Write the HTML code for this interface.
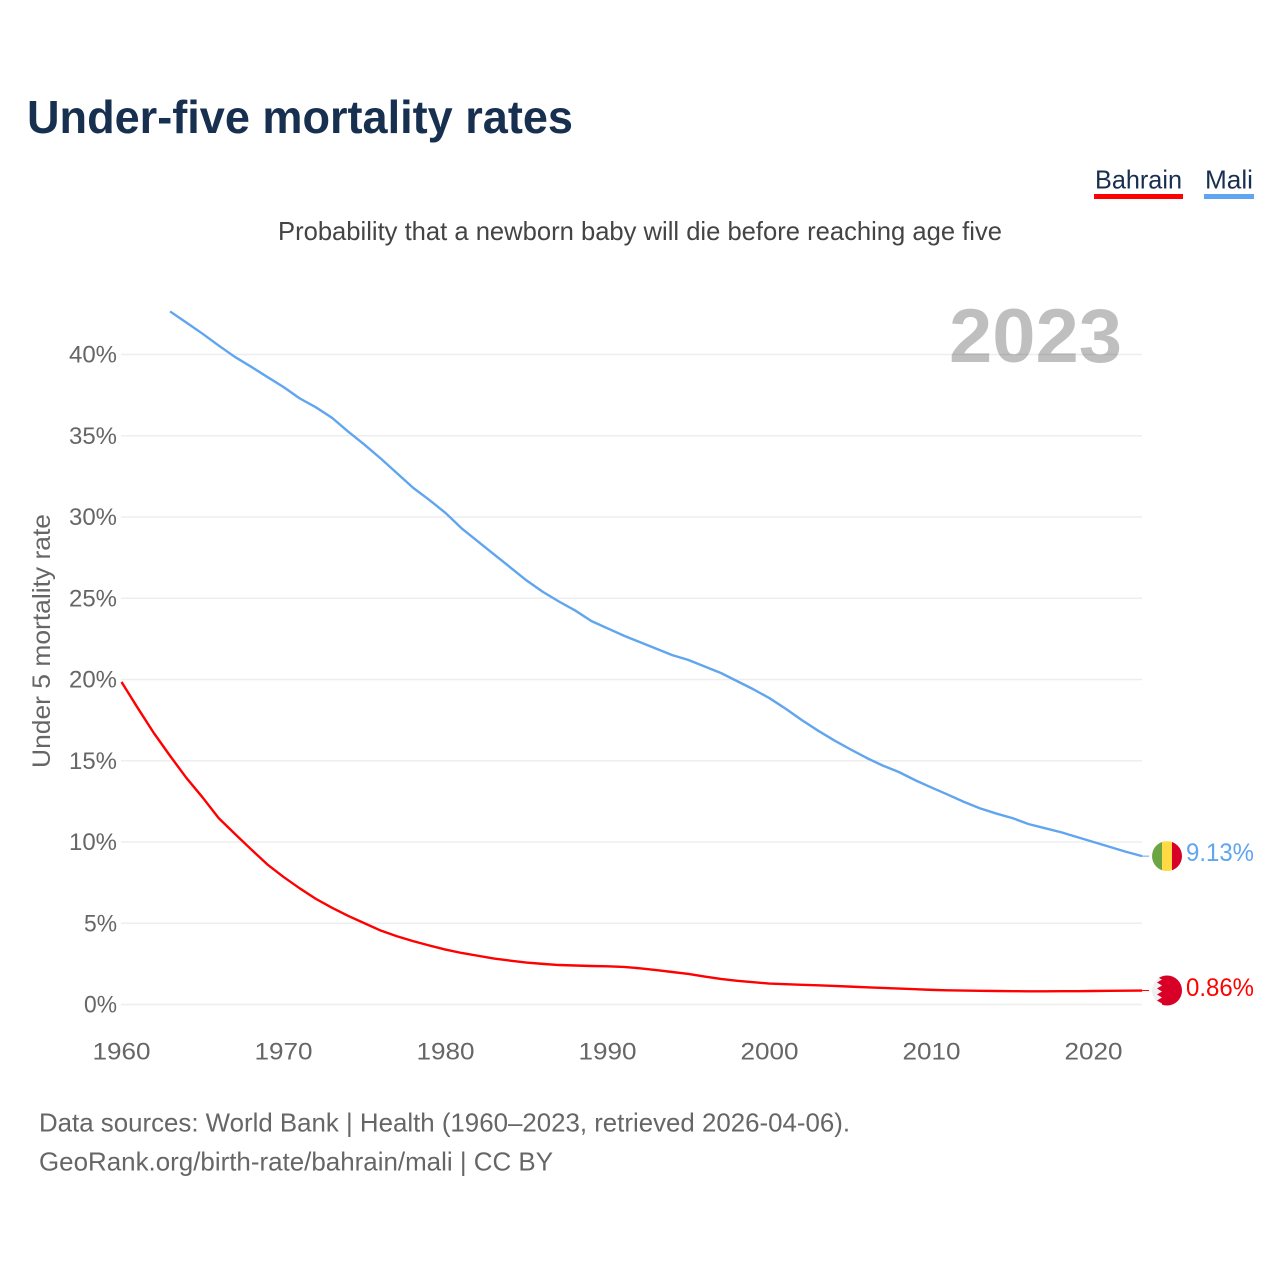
<!DOCTYPE html>
<html lang="en">
<head>
<meta charset="utf-8">
<title>Under-five mortality rates</title>
<style>
html,body{margin:0;padding:0;background:#fff;}
#chart{display:block;width:1280px;height:1280px;font-family:"Liberation Sans",sans-serif;}
</style>
</head>
<body>
<svg id="chart" xmlns="http://www.w3.org/2000/svg" width="1280" height="1280" viewBox="0 0 1280 1280">
  <defs>
    <clipPath id="flag-clip"><circle cx="0" cy="0" r="15"></circle></clipPath>
  </defs>
  <text x="27" y="133" font-size="46" font-weight="700" fill="#17304f" textLength="546" lengthAdjust="spacingAndGlyphs">Under-five mortality rates</text>
  <g>
    <g>
      <text x="1095" y="188.5" font-size="26" fill="#17304f" textLength="87" lengthAdjust="spacingAndGlyphs">Bahrain</text>
      <rect x="1094" y="194" width="89" height="5" fill="#ff0000"></rect>
    </g>
    <g>
      <text x="1205" y="188.5" font-size="26" fill="#17304f" textLength="48" lengthAdjust="spacingAndGlyphs">Mali</text>
      <rect x="1204" y="194" width="50" height="5" fill="#60a5ef"></rect>
    </g>
  </g>
  <text x="278" y="240" font-size="26" fill="#444444" textLength="724" lengthAdjust="spacingAndGlyphs">Probability that a newborn baby will die before reaching age five</text>
  <g id="grid"></g>
  <text x="949" y="362" font-size="76" font-weight="700" fill="#000000" fill-opacity="0.25" textLength="173" lengthAdjust="spacingAndGlyphs">2023</text>
  <text x="0" y="0" transform="translate(50,768) rotate(-90)" font-size="25" fill="#666666" textLength="254" lengthAdjust="spacingAndGlyphs">Under 5 mortality rate</text>
  <g id="yticks"></g>
  <g id="xticks"></g>
  <g id="series"></g>
  <g id="flag-mali">
    <g clip-path="url(#flag-clip)">
      <rect x="-15" y="-15" width="10" height="30" fill="#6da544"></rect>
      <rect x="-5" y="-15" width="10" height="30" fill="#ffda44"></rect>
      <rect x="5" y="-15" width="10" height="30" fill="#d80027"></rect>
    </g>
  </g>
  <g id="flag-bahrain">
    <g clip-path="url(#flag-clip)">
      <rect x="-15" y="-15" width="30" height="30" fill="#f0f0f0"></rect>
      <polygon points="-5,-15 15,-15 15,15 -5,15 -5,13 -10,10 -5,7 -10,4 -5,1 -10,-2 -5,-5 -10,-8 -5,-11 -9,-13" fill="#d80027"></polygon>
    </g>
  </g>
  <text id="label-mali" x="1186" y="861" font-size="25" fill="#60a5ef" textLength="68" lengthAdjust="spacingAndGlyphs"></text>
  <text id="label-bahrain" x="1186" y="996" font-size="25" fill="#ff0000" textLength="68" lengthAdjust="spacingAndGlyphs"></text>
  <text x="39" y="1131.5" font-size="26" fill="#666666" textLength="811" lengthAdjust="spacingAndGlyphs">Data sources: World Bank | Health (1960–2023, retrieved 2026-04-06).</text>
  <text x="39" y="1170.5" font-size="26" fill="#666666" textLength="514" lengthAdjust="spacingAndGlyphs">GeoRank.org/birth-rate/bahrain/mali | CC BY</text>
</svg>
<script>
const yTickValues = [0, 5, 10, 15, 20, 25, 30, 35, 40];
const xTickValues = [1960, 1970, 1980, 1990, 2000, 2010, 2020];
const startYearBahrain = 1960;
const startYearMali = 1963;
const bahrainValues = [19.85,18.25,16.7,15.3,13.95,12.75,11.47,10.5,9.55,8.62,7.85,7.15,6.5,5.95,5.45,5.0,4.55,4.2,3.9,3.63,3.38,3.17,3.0,2.83,2.7,2.58,2.5,2.43,2.4,2.37,2.35,2.31,2.23,2.12,2.0,1.88,1.72,1.57,1.46,1.37,1.29,1.25,1.21,1.18,1.14,1.1,1.06,1.02,0.98,0.94,0.9,0.87,0.86,0.84,0.83,0.82,0.81,0.81,0.82,0.82,0.83,0.84,0.85,0.86];
const maliValues = [42.65,41.97,41.28,40.55,39.85,39.25,38.62,38.0,37.3,36.75,36.1,35.25,34.45,33.6,32.7,31.8,31.05,30.25,29.3,28.5,27.7,26.9,26.1,25.4,24.8,24.25,23.6,23.15,22.7,22.3,21.9,21.5,21.2,20.8,20.4,19.9,19.4,18.85,18.2,17.5,16.85,16.25,15.7,15.17,14.7,14.3,13.8,13.35,12.92,12.47,12.07,11.75,11.47,11.1,10.85,10.6,10.3,10.0,9.7,9.4,9.13];

const SVG_NS = 'http://www.w3.org/2000/svg';
function xScale(year) { return 121.5 + (year - 1960) * 16.2; }
function yScale(value) { return 1004.5 - value * 16.25; }
function make(tag, attrs, parent) {
  const el = document.createElementNS(SVG_NS, tag);
  for (const k in attrs) el.setAttribute(k, attrs[k]);
  parent.appendChild(el);
  return el;
}

const grid = document.getElementById('grid');
const yticks = document.getElementById('yticks');
yTickValues.forEach(function (v) {
  const line = make('line', {x1: 121, x2: 1142, y1: yScale(v), y2: yScale(v), stroke: '#eeeeee', 'stroke-width': 1.5}, grid);
  
  
  const label = v + '%';
  const t = make('text', {x: 117, y: yScale(v) + 8, 'font-size': 24, fill: '#666666', 'text-anchor': 'end', textLength: label.length === 3 ? 48 : 33, lengthAdjust: 'spacingAndGlyphs'}, yticks);
  
  
  t.textContent = label;
});

const xticks = document.getElementById('xticks');
xTickValues.forEach(function (year) {
  const t = make('text', {x: xScale(year), y: 1059.5, 'font-size': 24, fill: '#666666', 'text-anchor': 'middle', textLength: 58, lengthAdjust: 'spacingAndGlyphs'}, xticks);
  
  
  t.textContent = String(year);
});

function pathFor(values, startYear) {
  return values.map(function (v, i) {
    return (i ? 'L' : 'M') + xScale(startYear + i).toFixed(2) + ' ' + yScale(v).toFixed(2);
  }).join(' ');
}
function endPoint(values, startYear) {
  const i = values.length - 1;
  return {x: xScale(startYear + i), y: yScale(values[i]), v: values[i]};
}

const series = document.getElementById('series');
const bahrainLine = make('path', {d: pathFor(bahrainValues, startYearBahrain), fill: 'none', stroke: '#ff0000', 'stroke-width': 2.4, 'stroke-linejoin': 'round'}, series);


const maliLine = make('path', {d: pathFor(maliValues, startYearMali), fill: 'none', stroke: '#60a5ef', 'stroke-width': 2.4, 'stroke-linejoin': 'round'}, series);



const endB = endPoint(bahrainValues, startYearBahrain);
const endM = endPoint(maliValues, startYearMali);
const stubB = make('line', {x1: endB.x, x2: endB.x + 7, y1: endB.y, y2: endB.y, stroke: '#ff0000', 'stroke-width': 1}, series);


const stubM = make('line', {x1: endM.x, x2: endM.x + 7, y1: endM.y, y2: endM.y, stroke: '#60a5ef', 'stroke-width': 1}, series);



document.getElementById('flag-mali').setAttribute('transform', 'translate(1167,' + endM.y + ')');
document.getElementById('flag-bahrain').setAttribute('transform', 'translate(1167,' + endB.y + ')');
const labelM = document.getElementById('label-mali');
labelM.setAttribute('y', endM.y + 5);
labelM.textContent = endM.v.toFixed(2) + '%';
const labelB = document.getElementById('label-bahrain');
labelB.setAttribute('y', endB.y + 5.5);
labelB.textContent = endB.v.toFixed(2) + '%';
</script>
</body>
</html>
